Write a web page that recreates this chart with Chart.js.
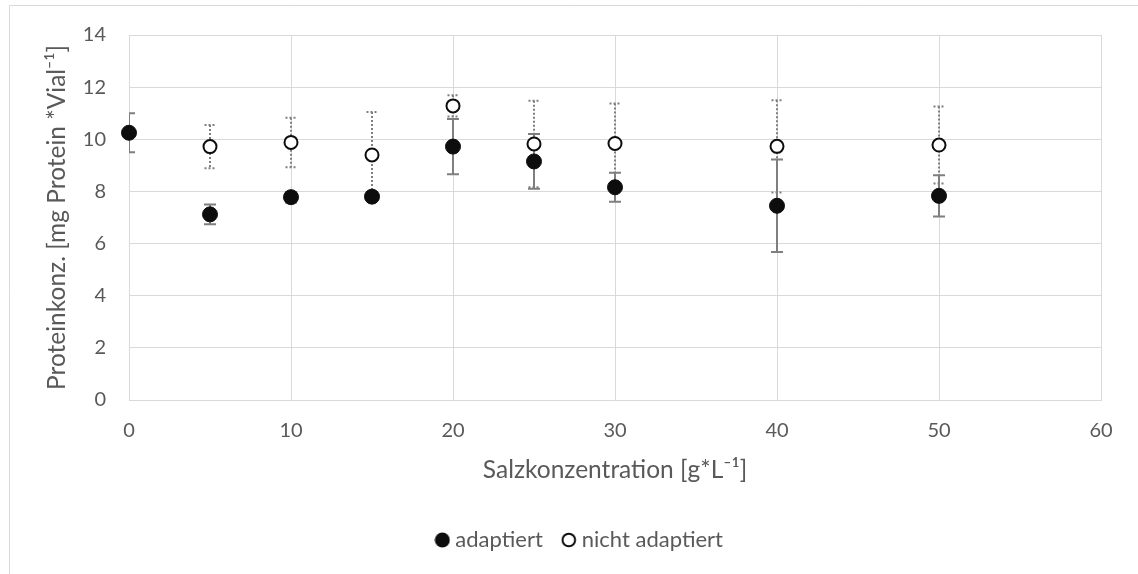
<!DOCTYPE html>
<html>
<head>
<meta charset="utf-8">
<style>
  html, body { margin: 0; padding: 0; background: #ffffff; }
  #wrap { position: relative; width: 1138px; height: 574px; }
  canvas { display: block; }
</style>
<script src="https://cdn.jsdelivr.net/npm/chart.js@4/dist/chart.umd.min.js"></script>
</head>
<body>
<div id="wrap"><canvas id="c" width="1138" height="574"></canvas></div>
<script>
// ---- data ----
const xAdaptiert = [0, 5, 10, 15, 20, 25, 30, 40, 50];
const adaptiert = [10.25, 7.12, 7.78, 7.80, 9.72, 9.15, 8.16, 7.45, 7.83];
const adaptiertErr = [0.75, 0.38, 0.20, 0.15, 1.06, 1.05, 0.56, 1.77, 0.79];

const xNicht = [5, 10, 15, 20, 25, 30, 40, 50];
const nichtAdaptiert = [9.72, 9.88, 9.40, 11.28, 9.82, 9.84, 9.73, 9.78];
const nichtAdaptiertErr = [0.83, 0.95, 1.65, 0.41, 1.66, 1.53, 1.77, 1.48];

const seriesNames = ['adaptiert', 'nicht adaptiert'];
const xTitle = 'Salzkonzentration [g*L\u207B\u00B9]';
const yTitle = 'Proteinkonz. [mg Protein *Vial\u207B\u00B9]';
const xTickValues = [0, 10, 20, 30, 40, 50, 60];
const yTickValues = [0, 2, 4, 6, 8, 10, 12, 14];

const toPoints = (xs, ys) => xs.map((x, i) => ({x: x, y: ys[i]}));

const FONT = 'Lato, "Open Sans", "DejaVu Sans", sans-serif';
const TEXT = '#595959';
const GRID = '#d9d9d9';
const ERR = '#7f7f7f';
const MARK = '#0d0d0d';

function legendIcon(filled) {
  const c = document.createElement('canvas');
  c.width = 16; c.height = 16;
  const g = c.getContext('2d');
  g.beginPath();
  g.arc(8, 8, filled ? 7.5 : 6.3, 0, Math.PI * 2);
  if (filled) { g.fillStyle = MARK; g.fill(); }
  else { g.fillStyle = '#fff'; g.fill(); g.lineWidth = 2; g.strokeStyle = MARK; g.stroke(); }
  return c;
}
const legendIcons = [legendIcon(true), legendIcon(false)];

const errorBarPlugin = {
  id: 'errorBars',
  beforeDatasetsDraw(chart) {
    const ctx = chart.ctx;
    const xs = chart.scales.x, ys = chart.scales.y;
    const area = chart.chartArea;
    ctx.save();
    ctx.beginPath();
    ctx.rect(area.left, area.top, area.right - area.left, area.bottom - area.top);
    ctx.clip();
    chart.data.datasets.forEach((ds) => {
      const errs = ds.errors;
      if (!errs) return;
      ctx.strokeStyle = ERR;
      ctx.lineWidth = 2;
      ctx.setLineDash(ds.errDotted ? [2, 2] : []);
      const cap = ds.errDotted ? 5.5 : 6;
      ds.data.forEach((p, i) => {
        const px = xs.getPixelForValue(p.x);
        const top = ys.getPixelForValue(p.y + errs[i]);
        const bot = ys.getPixelForValue(p.y - errs[i]);
        ctx.beginPath();
        ctx.moveTo(px, top); ctx.lineTo(px, bot);
        ctx.moveTo(px - cap, top); ctx.lineTo(px + cap, top);
        ctx.moveTo(px - cap, bot); ctx.lineTo(px + cap, bot);
        ctx.stroke();
      });
    });
    ctx.restore();
  }
};

const framePlugin = {
  id: 'frame',
  afterLayout(chart) {
    // centre the legend on the outer chart frame, as in the reference
    if (chart.legend) { chart.legend.left += 20; }
  },
  beforeDraw(chart) {
    const ctx = chart.ctx;
    ctx.save();
    ctx.strokeStyle = GRID;
    ctx.lineWidth = 1;
    ctx.beginPath();
    ctx.moveTo(9.5, 600); ctx.lineTo(9.5, 5.5); ctx.lineTo(1200, 5.5);
    ctx.stroke();
    ctx.restore();
  }
};

new Chart(document.getElementById('c'), {
  type: 'scatter',
  data: {
    datasets: [
      {
        label: seriesNames[0],
        data: toPoints(xAdaptiert, adaptiert),
        errors: adaptiertErr,
        errDotted: false,
        backgroundColor: MARK,
        borderColor: MARK,
        borderWidth: 1,
        pointRadius: 7.5,
        pointHoverRadius: 7.5,
        clip: false
      },
      {
        label: seriesNames[1],
        data: toPoints(xNicht, nichtAdaptiert),
        errors: nichtAdaptiertErr,
        errDotted: true,
        backgroundColor: '#ffffff',
        borderColor: MARK,
        borderWidth: 2,
        pointRadius: 6.5,
        pointHoverRadius: 6.5,
        clip: false
      }
    ]
  },
  options: {
    responsive: false,
    animation: false,
    events: [],
    layout: { padding: { left: 42.3, right: 37, top: 34, bottom: 13 } },
    plugins: {
      tooltip: { enabled: false },
      legend: {
        position: 'bottom',
        labels: {
          usePointStyle: true,
          boxWidth: 4,
          boxHeight: 4,
          padding: 24,
          color: TEXT,
          font: { family: FONT, size: 22 },
          generateLabels(chart) {
            const items = Chart.defaults.plugins.legend.labels.generateLabels(chart);
            items.forEach((it, i) => { it.pointStyle = legendIcons[i]; });
            return items;
          }
        }
      }
    },
    scales: {
      x: {
        type: 'linear',
        min: 0, max: 60,
        afterBuildTicks: (s) => { s.ticks = xTickValues.map(v => ({value: v})); },
        afterFit: (s) => { s.height = 105; },
        grid: { color: GRID, drawTicks: false },
        border: { color: GRID },
        ticks: { padding: 18.5, color: TEXT, font: { family: FONT, size: 20 } },
        title: { display: true, text: xTitle, color: TEXT, font: { family: FONT, size: 24.5 }, padding: { top: 0, bottom: 20.3 } }
      },
      y: {
        type: 'linear',
        min: 0, max: 14,
        afterBuildTicks: (s) => { s.ticks = yTickValues.map(v => ({value: v})); },
        afterFit: (s) => { s.width = 86.7; },
        grid: { color: GRID, drawTicks: false },
        border: { color: GRID },
        ticks: { padding: 23, color: TEXT, font: { family: FONT, size: 20 } },
        title: { display: true, text: yTitle, color: TEXT, font: { family: FONT, size: 24.5 }, padding: { top: 0, bottom: 0 } }
      }
    }
  },
  plugins: [framePlugin, errorBarPlugin]
});
</script>
</body>
</html>
